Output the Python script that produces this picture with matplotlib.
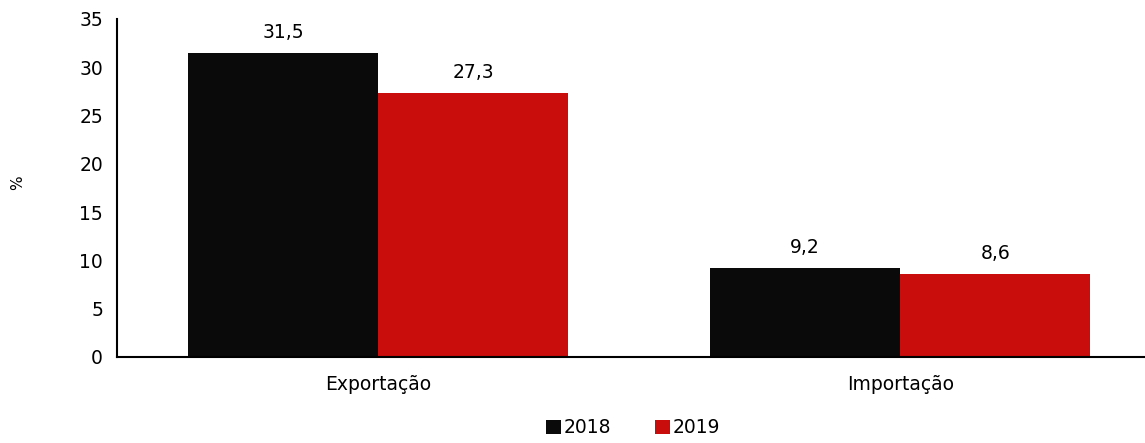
import matplotlib.pyplot as plt
import numpy as np

categories = ["Exportação", "Importação"]
series_names = ["2018", "2019"]
values_2018 = [31.5, 9.2]
values_2019 = [27.3, 8.6]
colors = ["#0a0a0a", "#c90c0c"]


def fmt(v):
    return f"{v:.1f}".replace(".", ",")


def main():
    fig = plt.figure(figsize=(11.45, 4.43), dpi=100)
    ax = fig.add_axes([117 / 1145, 1 - 357 / 443, 1 - 117 / 1145, (357 - 19) / 443])

    x = np.arange(len(categories))
    width = 0.364
    b1 = ax.bar(x - width / 2, values_2018, width, color=colors[0], label=series_names[0])
    b2 = ax.bar(x + width / 2, values_2019, width, color=colors[1], label=series_names[1])

    for bars, vals in [(b1, values_2018), (b2, values_2019)]:
        for rect, v in zip(bars, vals):
            ax.annotate(fmt(v), (rect.get_x() + rect.get_width() / 2, v),
                        xytext=(0, 8), textcoords="offset points",
                        ha="center", va="bottom", fontsize=13.5)

    ax.set_ylim(0, 35)
    ax.set_yticks(range(0, 36, 5))
    ax.set_xlim(-0.5, 1.469)
    ax.set_xticks(x)
    ax.set_xticklabels(categories, fontsize=13.5)
    ax.tick_params(axis="y", labelsize=13.5, length=0, pad=10)
    ax.tick_params(axis="x", length=0, pad=13)

    for s in ["top", "right"]:
        ax.spines[s].set_visible(False)
    ax.spines["left"].set_linewidth(1.5)
    ax.spines["bottom"].set_linewidth(1.5)

    fig.text(18 / 1145, 1 - 183 / 443, "%", rotation=90, ha="center", va="center", fontsize=11)

    fig.legend(loc="lower center", bbox_to_anchor=(0.553, -0.025), ncol=2, frameon=False,
               fontsize=13.5, handlelength=0.8, handleheight=0.8, handletextpad=0.15,
               columnspacing=2.3)

    fig.savefig("out.png", dpi=100)


if __name__ == "__main__":
    main()
